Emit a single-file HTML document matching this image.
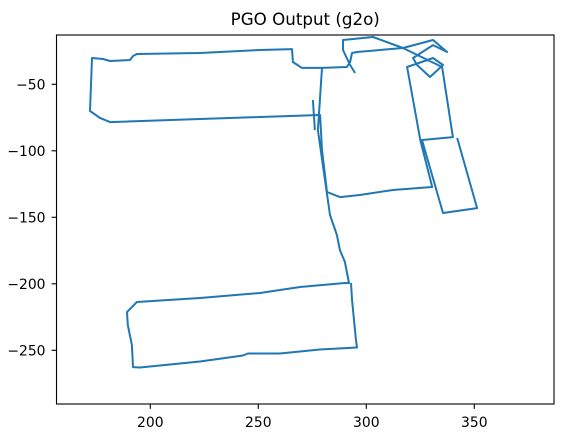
<!DOCTYPE html>
<html><head><meta charset="utf-8"><style>
body{margin:0;background:#fff;}
svg{display:block;font-family:"DejaVu Sans","Liberation Sans",sans-serif;}
</style></head><body>
<svg id="chart" width="568" height="435"></svg>
<script>
const xTicks=[200,250,300,350];
const yTicks=[-50,-100,-150,-200,-250];
const xLabels=["200","250","300","350"];
const yLabels=["−50","−100","−150","−200","−250"];
const pathX=[294.8,292.5,289.2,289.2,303.1,317.0,330.9,337.4,330.9,321.6,323.5,329.5,335.5,330.9,318.9,325.0,330.5,312.3,297.0,287.8,281.8,279.5,278.6,250.8,223.0,181.4,176.7,172.1,173.0,178.1,181.4,190.6,192.0,193.8,223.0,250.8,265.6,266.0,270.2,279.5,291.0,292.5,293.4,295.7,317.0,335.1,340.1,325.8,335.5,351.3,342.1,null,
279.5,277.6,280.9,283.2,286.4,287.8,290.1,292.0,290.1,269.3,250.8,223.0,193.8,189.2,189.6,191.5,192.0,195.2,223.0,242.9,245.2,260.0,278.5,295.7,295.2,293.4,292.9,null,
275.3,276.2];
const pathY=[-41.5,-35.5,-24.2,-16.7,-14.4,-22.7,-16.7,-25.7,-20.5,-30.2,-35.5,-44.5,-35.5,-30.2,-37.0,-91.9,-127.2,-129.5,-133.2,-134.8,-131.0,-99.4,-73.1,-74.6,-76.1,-78.4,-75.3,-70.1,-30.2,-31.0,-32.5,-31.7,-28.7,-27.2,-26.5,-24.2,-23.5,-33.2,-37.7,-37.7,-37.0,-33.2,-26.5,-25.7,-22.7,-37.0,-89.7,-91.9,-146.8,-143.1,-90.4,null,
-37.7,-84.4,-122.0,-148.3,-163.3,-174.6,-183.6,-199.4,-199.4,-202.4,-206.9,-210.7,-213.7,-221.2,-231.0,-246.0,-262.6,-262.9,-258.4,-253.9,-252.4,-252.4,-249.4,-247.9,-241.9,-211.8,-199.4,null,
-61.9,-84.4];
const L=56.5,R=554,T=35,B=404;
const sx=v=>150.3+(v-200)*2.16;
const sy=v=>84.3+(-50-v)*1.33;
const ns="http://www.w3.org/2000/svg";
const svg=document.getElementById('chart');
function mk(t,a){const e=document.createElementNS(ns,t);for(const k in a)e.setAttribute(k,a[k]);svg.appendChild(e);return e;}
const title=mk('text',{x:(L+R)/2,y:25,'text-anchor':'middle','font-size':16.7,fill:'#000'});
title.textContent='PGO Output (g2o)';


let d='',pen=false;
for(let i=0;i<pathX.length;i++){
 if(pathX[i]===null){pen=false;continue;}
 d+=(pen?'L':'M')+sx(pathX[i]).toFixed(1)+','+sy(pathY[i]).toFixed(1);pen=true;
}
const clip=mk('clipPath',{id:'c'});
const cr=document.createElementNS(ns,'rect');cr.setAttribute('x',L);cr.setAttribute('y',T);cr.setAttribute('width',R-L);cr.setAttribute('height',B-T);clip.appendChild(cr);
const line=mk('path',{d:d,fill:'none',stroke:'#1f77b4','stroke-width':2,'stroke-linejoin':'round','clip-path':'url(#c)'});


const frame=mk('rect',{x:L,y:T,width:R-L,height:B-T,fill:'none',stroke:'#000','stroke-width':1.1});


xTicks.forEach((v,i)=>{
 const x=sx(v);
 mk('line',{x1:x,x2:x,y1:B,y2:B+4.9,stroke:'#000','stroke-width':1.1});
 const t=mk('text',{x:x,y:B+23,'text-anchor':'middle','font-size':13.9,fill:'#000'});
 t.textContent=xLabels[i];
 
 
});
yTicks.forEach((v,i)=>{
 const y=sy(v);
 mk('line',{x1:L-4.9,x2:L,y1:y,y2:y,stroke:'#000','stroke-width':1.1});
 const t=mk('text',{x:L-11,y:y+5,'text-anchor':'end','font-size':13.9,fill:'#000'});
 t.textContent=yLabels[i];
 
 
});
</script>
</body></html>
